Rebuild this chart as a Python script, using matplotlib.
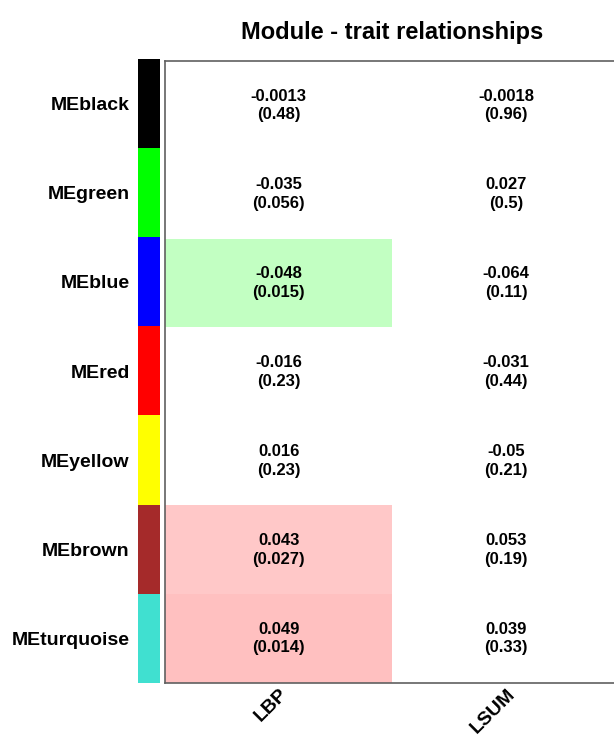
import numpy as np
import matplotlib
matplotlib.use("Agg")
from matplotlib import pyplot as plt
from matplotlib.colors import LinearSegmentedColormap, ListedColormap

plt.rcParams['font.family'] = ['Liberation Sans', 'DejaVu Sans']

# module eigengenes (rows) and traits (columns)
modules = ["MEblack", "MEgreen", "MEblue", "MEred", "MEyellow", "MEbrown", "MEturquoise"]
module_colors = ["#000000", "#00ff00", "#0000ff", "#ff0000", "#ffff00", "#a52a2a", "#40e0d0"]
traits = ["LBP", "LSUM"]

# correlations and p-values
cor = np.array([
    [-0.0013, -0.0018],
    [-0.035, 0.027],
    [-0.048, -0.064],
    [-0.016, -0.031],
    [0.016, -0.05],
    [0.043, 0.053],
    [0.049, 0.039],
])
pval = np.array([
    [0.48, 0.96],
    [0.056, 0.5],
    [0.015, 0.11],
    [0.23, 0.44],
    [0.23, 0.21],
    [0.027, 0.19],
    [0.014, 0.33],
])

cor_txt = ["-0.0013", "-0.0018", "-0.035", "0.027", "-0.048", "-0.064",
           "-0.016", "-0.031", "0.016", "-0.05", "0.043", "0.053",
           "0.049", "0.039"]
p_txt = ["0.48", "0.96", "0.056", "0.5", "0.015", "0.11", "0.23", "0.44",
         "0.23", "0.21", "0.027", "0.19", "0.014", "0.33"]

fig = plt.figure(figsize=(6.14, 7.35), dpi=100)

# heatmap; only significant cells get a colour
ax = fig.add_axes([165 / 614, 52 / 735, 455 / 614, 622 / 735])
cmap = LinearSegmentedColormap.from_list("gwr", ["#00ff00", "#ffffff", "#ff0000"])
shown = np.ma.masked_where(pval >= 0.05, cor)
ax.imshow(shown, cmap=cmap, vmin=-0.2, vmax=0.2, aspect="auto",
          interpolation="nearest")
ax.set_xlim(-0.5, len(traits) - 0.5)
ax.set_ylim(len(modules) - 0.5, -0.5)

for i in range(len(modules)):
    for j in range(len(traits)):
        k = i * len(traits) + j
        ax.text(j, i, cor_txt[k] + "\n(" + p_txt[k] + ")", ha="center", va="center",
                fontsize=12, fontweight="bold", linespacing=1.3)

ax.set_xticks(range(len(traits)))
ax.set_xticklabels(traits, rotation=45, ha="right", rotation_mode="anchor",
                   fontsize=14, fontweight="bold")
ax.tick_params(axis="x", length=0, pad=2)
ax.set_yticks([])
for s in ax.spines.values():
    s.set_color("#606060")
    s.set_linewidth(1.2)

ax.set_title("Module - trait relationships", fontsize=17, fontweight="bold", pad=16)

# module colour bar with labels
cax = fig.add_axes([138 / 614, 52 / 735, 22 / 614, 624 / 735])
cax.imshow(np.arange(len(modules)).reshape(-1, 1), cmap=ListedColormap(module_colors),
           aspect="auto", interpolation="nearest")
cax.set_xticks([])
cax.set_yticks(range(len(modules)))
cax.set_yticklabels(modules, fontsize=14, fontweight="bold")
cax.tick_params(axis="y", length=0, pad=6)
for s in cax.spines.values():
    s.set_visible(False)

plt.savefig("out.png", dpi=100)
